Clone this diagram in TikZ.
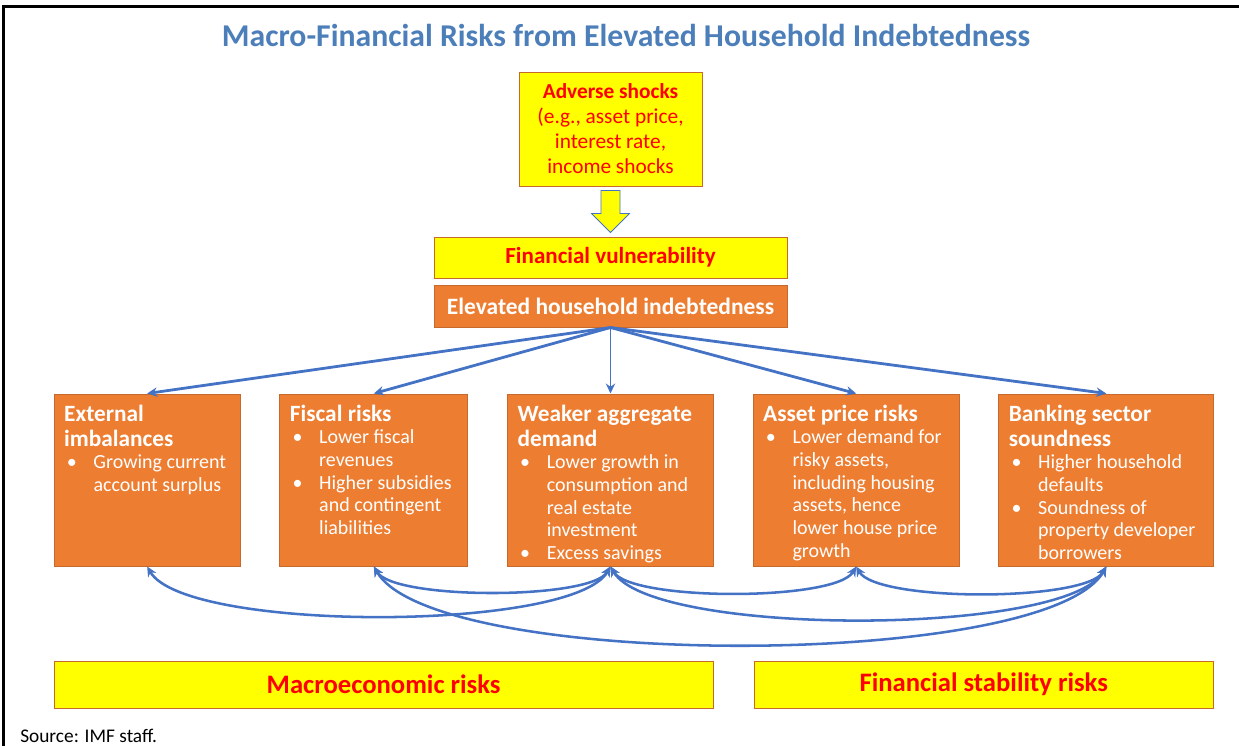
\documentclass[tikz,border=0pt]{standalone}
\usepackage{fontspec}
\setmainfont{Carlito}
\usepackage{xcolor}
\usepackage{tikz}
\usetikzlibrary{positioning, arrows.meta}
\definecolor{titleblue}{RGB}{76,126,185}
\definecolor{shockyellow}{RGB}{255,255,0}
\definecolor{riskorange}{RGB}{237,125,49}
\definecolor{edgebrown}{RGB}{197,105,45}
\definecolor{alertred}{RGB}{255,0,0}
\definecolor{linkblue}{RGB}{68,114,196}

\newcommand{\riskitem}[1]{\par\hangindent=22pt\hangafter=1\noindent\makebox[22pt][l]{\hspace{2pt}\textbullet}#1}
\newcommand{\riskbody}[3]{\parbox[t][113pt][t]{#1}{\raggedright
  {\fontsize{17.5}{18.75}\selectfont\bfseries #2\par}
  \fontsize{15}{17}\selectfont #3}}

\begin{document}
\begin{tikzpicture}[
  x=0.75pt, y=0.75pt,
  lbox/.style={rectangle, draw=edgebrown, line width=0.75pt, align=center},
  risk/.style={rectangle, draw=edgebrown, fill=riskorange, line width=0.75pt, inner xsep=7.5pt, inner ysep=8pt, text=white},
  fan/.style={-{Stealth[length=7.5pt, width=7pt]}, draw=linkblue, line width=2.1pt},
  link/.style={{Stealth[length=7.5pt, width=7pt]}-{Stealth[length=7.5pt, width=7pt]}, draw=linkblue, line width=1.9pt, out=-60, in=-120, looseness=0.42}
]
\useasboundingbox (0,0) rectangle (1239,-746);
\draw[line width=2.25pt] (3,-746) |- (1239,-6);

\node[font=\fontsize{23.8}{28}\selectfont\bfseries, text=titleblue] (title) at (626,-35) {Macro-Financial Risks from Elevated Household Indebtedness};

\node[lbox, fill=shockyellow, text=alertred, minimum width=137.25pt, minimum height=85.5pt, font=\fontsize{16}{18.75}\selectfont] (shocks) at (610.5,-129) {\textbf{Adverse shocks}\\(e.g., asset price,\\interest rate,\\income shocks};
\draw[draw=linkblue, fill=shockyellow, line width=0.6pt] ([shift={(-9.5,-4)}]shocks.south) -- ++(0,-23) -- ++(-9.5,0) -- ++(19,-19) -- ++(19,19) -- ++(-9.5,0) -- ++(0,23) -- cycle;

\node[lbox, fill=shockyellow, text=alertred, minimum width=264.75pt, minimum height=30.75pt, font=\fontsize{17.3}{20}\selectfont\bfseries, below=37.5pt of shocks] (vuln) {Financial vulnerability};
\node[lbox, fill=riskorange, text=white, minimum width=264.75pt, minimum height=31.5pt, font=\fontsize{17.6}{20}\selectfont\bfseries, below=4.5pt of vuln] (hub) {Elevated household indebtedness};

\node[risk, below=49.5pt of hub] (demand) {\riskbody{139.5pt}{Weaker aggregate\newline demand}{\riskitem{Lower growth in\newline consumption and\newline real estate\newline investment}\riskitem{Excess savings}}};
\node[risk, left=29pt of demand] (fiscal) {\riskbody{126pt}{Fiscal risks}{\riskitem{Lower fiscal\newline revenues}\riskitem{Higher subsidies\newline and contingent\newline liabilities}}};
\node[risk, left=29pt of fiscal] (external) {\riskbody{124.5pt}{External\newline imbalances}{\riskitem{Growing current\newline account surplus}}};
\node[risk, right=29pt of demand] (asset) {\riskbody{139.5pt}{Asset price risks}{\riskitem{Lower demand for\newline risky assets,\newline including housing\newline assets, hence\newline lower house price\newline growth}}};
\node[risk, right=29pt of asset] (bank) {\riskbody{146.25pt}{Banking sector\newline soundness}{\riskitem{Higher household\newline defaults}\riskitem{Soundness of\newline property developer\newline borrowers}}};

\node[lbox, fill=shockyellow, text=alertred, minimum width=494.25pt, minimum height=35.25pt, font=\fontsize{20}{24}\selectfont\bfseries, below=70.5pt of external.south west, anchor=north west] (macro) {Macroeconomic risks};
\node[lbox, fill=shockyellow, text=alertred, minimum width=344.25pt, minimum height=35.25pt, font=\fontsize{20}{24}\selectfont\bfseries, right=30pt of macro] (finstab) {Financial stability risks};

\node[anchor=base west, font=\fontsize{14.5}{17}\selectfont, inner sep=0pt] (source) at (20,-742.5) {Source: IMF staff.};

\draw[fan] (hub.south) -- (external.north);
\draw[fan] (hub.south) -- (fiscal.north);
\draw[fan, line width=1.1pt] (hub.south) -- (demand.north);
\draw[fan] (hub.south) -- (asset.north);
\draw[fan] (hub.south) -- (bank.north);

\draw[link] (external.south) to (demand.south);
\draw[link] (fiscal.south) to (demand.south);
\draw[link] (fiscal.south) to (bank.south);
\draw[link] (demand.south) to (asset.south);
\draw[link] (demand.south) to (bank.south);
\draw[link] (asset.south) to (bank.south);
\end{tikzpicture}
\end{document}
